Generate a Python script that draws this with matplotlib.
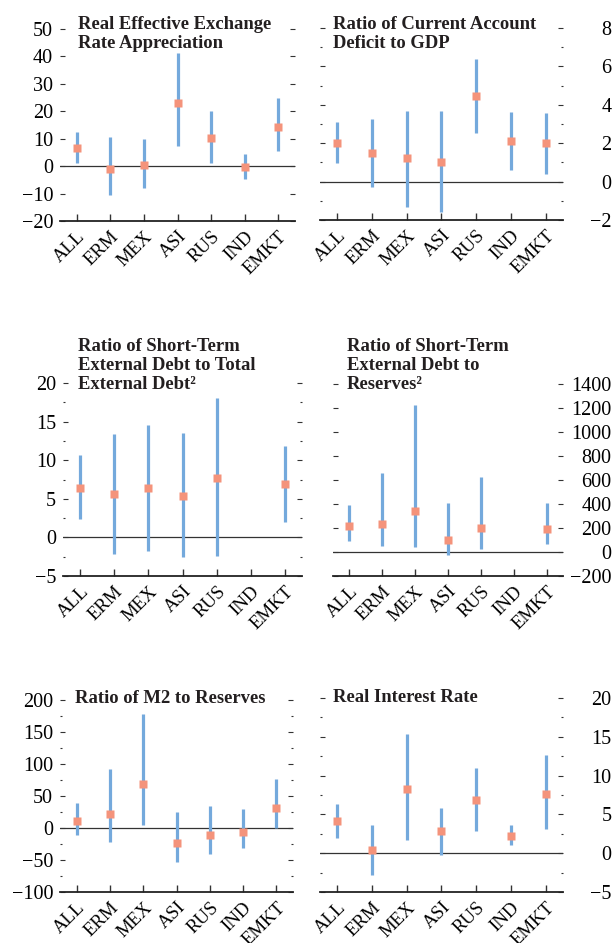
import matplotlib
matplotlib.use("Agg")
import matplotlib.pyplot as plt
import numpy as np
from matplotlib.ticker import MultipleLocator

plt.rcParams['font.family'] = ['Liberation Serif', 'DejaVu Serif']

countries = ['ALL', 'ERM', 'MEX', 'ASI', 'RUS', 'IND', 'EMKT']

# 실질실효환율 절상
reer_mid = [6.5, -0.9, 0.5, 22.9, 10.2, -0.4, 14.4]
reer_lo = [1.1, -10.5, -8.1, 7.5, 1.3, -4.6, 5.6]
reer_hi = [12.4, 10.5, 9.8, 41.2, 20.2, 4.3, 24.8]

# 경상수지 적자 / GDP
ca_mid = [2.0, 1.48, 1.22, 1.04, 4.45, 2.1, 2.0]
ca_lo = [0.96, -0.26, -1.3, -1.6, 2.52, 0.61, 0.37]
ca_hi = [3.08, 3.27, 3.7, 3.69, 6.4, 3.6, 3.58]

# 단기외채 / 총외채
std_mid = [6.4, 5.6, 6.4, 5.4, 7.7, np.nan, 6.9]
std_lo = [2.35, -2.1, -1.7, -2.5, -2.4, np.nan, 2.05]
std_hi = [10.7, 13.4, 14.6, 13.5, 18.0, np.nan, 11.8]

# 단기외채 / 외환보유액
str_mid = [215, 231, 340, 98, 198, np.nan, 190]
str_lo = [95, 50, 45, -25, 25, np.nan, 70]
str_hi = [392, 657, 1228, 406, 626, np.nan, 412]

# M2 / 외환보유액
m2_mid = [10.5, 22, 69.5, -23.7, -11.6, -6.3, 31.6]
m2_lo = [-11.6, -22.6, 4.2, -53.7, -40.5, -32, 0]
m2_hi = [39.5, 92, 178, 25.3, 33.7, 29, 75.8]

# 실질금리
rir_mid = [4.2, 0.35, 8.26, 2.8, 6.8, 2.26, 7.6]
rir_lo = [2.0, -2.8, 1.65, -0.26, 2.9, 1.04, 3.1]
rir_hi = [6.35, 3.6, 15.3, 5.8, 11.0, 3.6, 12.6]

BAR = '#74a9dc'
MARK = '#f4937b'
W, H = 616, 943

panels = [
    # (mid, lo, hi, title, rect px (l, r, top, bottom), ylim, major, minor, side, title xy px)
    (reer_mid, reer_lo, reer_hi, 'Real Effective Exchange\nRate Appreciation',
     (60, 295, 29, 221), (-20, 50), 10, None, 'left', (78, 16)),
    (ca_mid, ca_lo, ca_hi, 'Ratio of Current Account\nDeficit to GDP',
     (320, 563, 28, 220), (-2, 8), 2, 1, 'right', (333, 16)),
    (std_mid, std_lo, std_hi, 'Ratio of Short-Term\nExternal Debt to Total\nExternal Debt\u00b2',
     (63, 302, 383, 576), (-5, 20), 5, 2.5, 'left', (78, 338)),
    (str_mid, str_lo, str_hi, 'Ratio of Short-Term\nExternal Debt to\nReserves\u00b2',
     (333, 563, 384, 576), (-200, 1400), 200, None, 'right', (347, 338)),
    (m2_mid, m2_lo, m2_hi, 'Ratio of M2 to Reserves',
     (60, 293, 700, 892), (-100, 200), 50, 25, 'left', (75, 690)),
    (rir_mid, rir_lo, rir_hi, 'Real Interest Rate',
     (320, 563, 698, 892), (-5, 20), 5, 2.5, 'right', (333, 689)),
]

fig = plt.figure(figsize=(W / 100, H / 100), dpi=100)

for mid, lo, hi, title, (l, r, t, b), ylim, major, minor, side, (tx, ty) in panels:
    ax = fig.add_axes([l / W, 1 - b / H, (r - l) / W, (b - t) / H])
    x = np.arange(len(countries))
    ax.vlines(x, lo, hi, color=BAR, lw=2.3, zorder=2)
    ax.plot(x, mid, 's', color=MARK, ms=6, mec='none', zorder=3)
    ax.axhline(0, color='#333333', lw=0.9, zorder=1)

    ax.set_xlim(-0.5, len(countries) - 0.5)
    ax.set_ylim(*ylim)
    ax.set_xticks(x)
    ax.set_xticklabels(countries, rotation=45, ha='right', va='top',
                       rotation_mode='anchor', fontsize=13.5)
    ax.yaxis.set_major_locator(MultipleLocator(major))
    if minor:
        ax.yaxis.set_minor_locator(MultipleLocator(minor))

    for s in ['top', 'left', 'right']:
        ax.spines[s].set_visible(False)
    ax.spines['bottom'].set_linewidth(1.3)
    ax.spines['bottom'].set_color('#222222')

    ax.tick_params(axis='x', direction='in', length=5, width=1, pad=5, color='#333333')
    ax.tick_params(axis='y', which='major', direction='in', length=3.5, width=0.8,
                   left=True, right=True, color='#333333', labelsize=14.5)
    ax.tick_params(axis='y', which='minor', direction='in', length=1.2, width=0.8,
                   left=True, right=True, color='#333333')
    if side == 'left':
        ax.tick_params(axis='y', labelleft=True, labelright=False, pad=5)
    else:
        ax.tick_params(axis='y', labelleft=False, labelright=True, pad=35)
        for lbl in ax.get_yticklabels():
            lbl.set_horizontalalignment('right')
    ax.patch.set_alpha(0)

    fig.text(tx / W, 1 - ty / H, title, fontsize=13.4, fontweight='bold',
             color='#231f20', ha='left', va='top', linespacing=1.17)

fig.savefig('out.png', dpi=100)
